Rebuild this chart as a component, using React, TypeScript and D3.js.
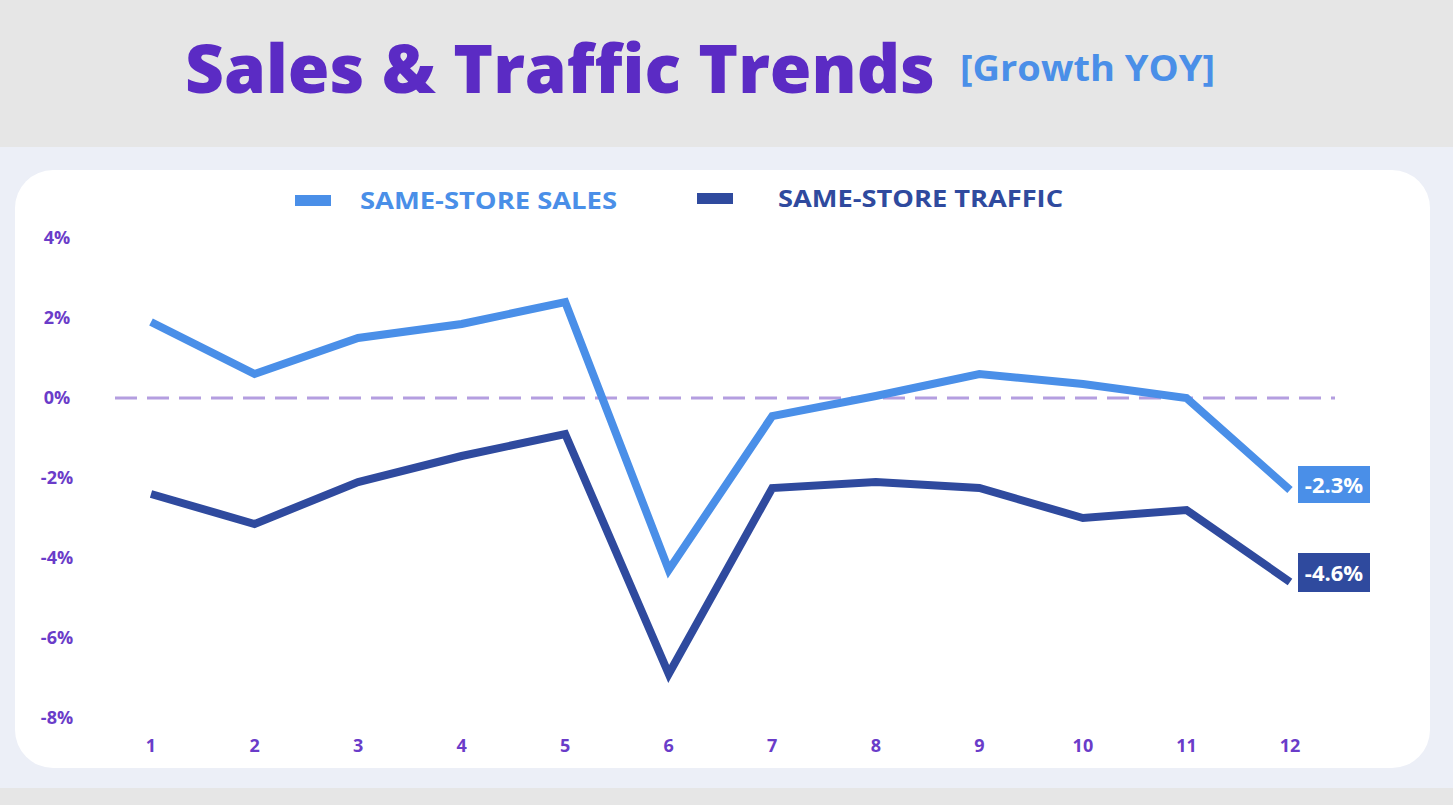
import React from "react";
import * as d3 from "d3";

const months = [1, 2, 3, 4, 5, 6, 7, 8, 9, 10, 11, 12];
const salesGrowth = [1.9, 0.6, 1.5, 1.85, 2.4, -4.3, -0.45, 0.05, 0.6, 0.35, 0.0, -2.3];
const trafficGrowth = [-2.4, -3.15, -2.1, -1.45, -0.9, -6.9, -2.25, -2.1, -2.25, -3.0, -2.8, -4.6];
const yTicks = [4, 2, 0, -2, -4, -6, -8];
const seriesNames = ["SAME-STORE SALES", "SAME-STORE TRAFFIC"];

const W = 1453;
const H = 805;
const SALES = "#4a8fe8";
const TRAFFIC = "#2f4a9e";
const PURPLE = "#5b2bc4";
const TICK = "#6a3cc9";
const FONT = "'Open Sans', 'Noto Sans', sans-serif";

export default function App() {
  const x = d3.scaleLinear().domain([1, 12]).range([151, 1290]);
  const y = d3.scaleLinear().domain([-8, 4]).range([718, 238]);
  const line = d3
    .line<number>()
    .x((_, i) => x(months[i]))
    .y((d) => y(d));

  const lastS = salesGrowth[salesGrowth.length - 1];
  const lastT = trafficGrowth[trafficGrowth.length - 1];

  return (
    <svg
      width={W}
      height={H}
      style={{ position: "absolute", left: 0, top: 0, display: "block" }}
      fontFamily={FONT}
    >
      <rect x={0} y={0} width={W} height={H} fill="#e6e6e6" />
      <rect x={0} y={147} width={W} height={641} fill="#eceff7" />
      <rect x={15} y={170} width={1415} height={598} rx={38} ry={38} fill="#ffffff" />

      <text x={185} y={93} fontSize={68} fontWeight={800} fill={PURPLE} textLength={750} lengthAdjust="spacingAndGlyphs">
        Sales &amp; Traffic Trends
      </text>
      <text x={960} y={81} fontSize={35} fontWeight={700} fill={SALES} textLength={255} lengthAdjust="spacingAndGlyphs">
        [Growth YOY]
      </text>

      {/* legend */}
      <rect x={295} y={195} width={36} height={11} fill={SALES} />
      <text x={360} y={209} fontSize={24} fontWeight={700} fill={SALES} textLength={257} lengthAdjust="spacingAndGlyphs">
        {seriesNames[0]}
      </text>
      <rect x={697} y={193} width={36} height={11} fill={TRAFFIC} />
      <text x={778} y={207} fontSize={24} fontWeight={700} fill={TRAFFIC} textLength={285} lengthAdjust="spacingAndGlyphs">
        {seriesNames[1]}
      </text>

      {/* y ticks */}
      {yTicks.map((t) => (
        <text key={t} x={57} y={y(t) + 6} textAnchor="middle" fontSize={18} fontWeight={700} fill={TICK}>
          {`${t}%`}
        </text>
      ))}

      {/* x ticks */}
      {months.map((m) => (
        <text key={m} x={x(m)} y={752} textAnchor="middle" fontSize={18} fontWeight={700} fill={TICK}>
          {m}
        </text>
      ))}

      {/* zero line */}
      <line
        x1={115}
        x2={1335}
        y1={y(0)}
        y2={y(0)}
        stroke="#b49ee0"
        strokeWidth={3}
        strokeDasharray="22 10"
      />

      <path d={line(salesGrowth) || ""} fill="none" stroke={SALES} strokeWidth={8} strokeLinejoin="miter" />
      <path d={line(trafficGrowth) || ""} fill="none" stroke={TRAFFIC} strokeWidth={8} strokeLinejoin="miter" />

      {/* end labels */}
      <rect x={1298} y={y(lastS) - 24} width={72} height={37} fill={SALES} />
      <text x={1334} y={y(lastS) + 3} textAnchor="middle" fontSize={22} fontWeight={700} fill="#fff">
        {`${lastS}%`}
      </text>
      <rect x={1298} y={y(lastT) - 29} width={72} height={39} fill={TRAFFIC} />
      <text x={1334} y={y(lastT) - 1} textAnchor="middle" fontSize={22} fontWeight={700} fill="#fff">
        {`${lastT}%`}
      </text>
    </svg>
  );
}
